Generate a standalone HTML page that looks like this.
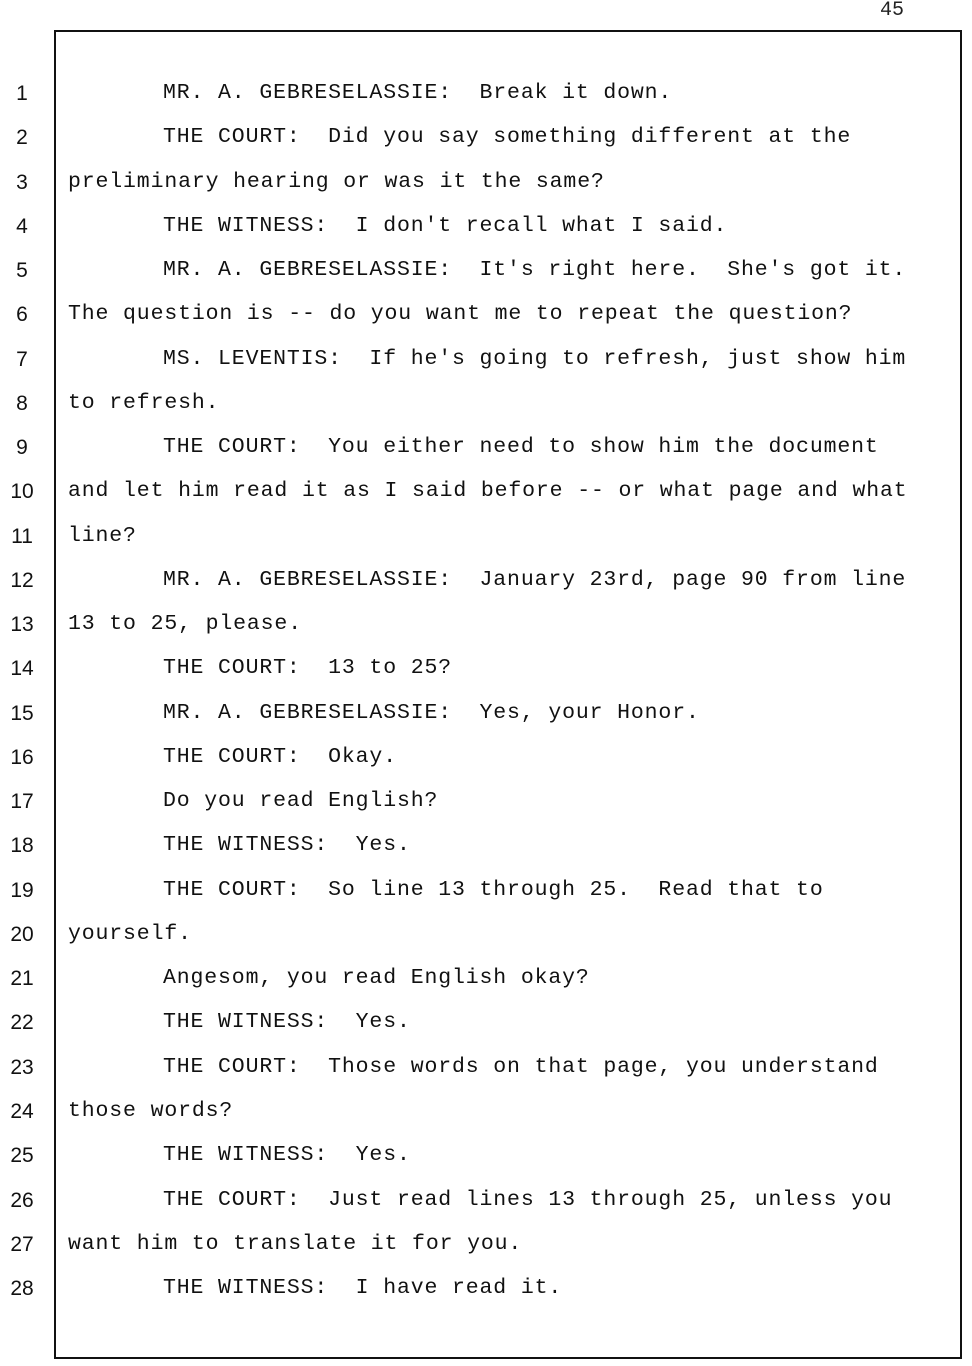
<!DOCTYPE html>
<html><head><meta charset="utf-8"><style>
body{margin:0;background:#fff;width:972px;height:1366px;position:relative;overflow:hidden}
.box{position:absolute;left:54px;top:30px;width:904px;height:1325px;border:2px solid #111}
.n{position:absolute;left:0;width:44px;text-align:center;font:21px "Liberation Sans",sans-serif;color:#111}
.t{position:absolute;font:21.5px "Liberation Mono",monospace;letter-spacing:0.86px;color:#111;white-space:pre}
.pg{position:absolute;left:880px;top:-1px;font:20px "Liberation Mono",monospace;color:#222}
</style></head><body>
<div class="pg">45</div>
<div class="box"></div>
<div id="c"></div>
<script>
var L=[
[1,"MR. A. GEBRESELASSIE:  Break it down."],
[1,"THE COURT:  Did you say something different at the"],
[0,"preliminary hearing or was it the same?"],
[1,"THE WITNESS:  I don't recall what I said."],
[1,"MR. A. GEBRESELASSIE:  It's right here.  She's got it."],
[0,"The question is -- do you want me to repeat the question?"],
[1,"MS. LEVENTIS:  If he's going to refresh, just show him"],
[0,"to refresh."],
[1,"THE COURT:  You either need to show him the document"],
[0,"and let him read it as I said before -- or what page and what"],
[0,"line?"],
[1,"MR. A. GEBRESELASSIE:  January 23rd, page 90 from line"],
[0,"13 to 25, please."],
[1,"THE COURT:  13 to 25?"],
[1,"MR. A. GEBRESELASSIE:  Yes, your Honor."],
[1,"THE COURT:  Okay."],
[1,"Do you read English?"],
[1,"THE WITNESS:  Yes."],
[1,"THE COURT:  So line 13 through 25.  Read that to"],
[0,"yourself."],
[1,"Angesom, you read English okay?"],
[1,"THE WITNESS:  Yes."],
[1,"THE COURT:  Those words on that page, you understand"],
[0,"those words?"],
[1,"THE WITNESS:  Yes."],
[1,"THE COURT:  Just read lines 13 through 25, unless you"],
[0,"want him to translate it for you."],
[1,"THE WITNESS:  I have read it."]];
var h="";
for(var i=0;i<L.length;i++){var y=80+i*44.26;
h+='<div class="n" style="top:'+(y+2)+'px">'+(i+1)+'</div>';
var s=L[i][1].replace(/&/g,"&amp;").replace(/</g,"&lt;");
h+='<div class="t" style="left:'+(L[i][0]?163:68)+'px;top:'+(y+1)+'px">'+s+'</div>';}
document.getElementById("c").innerHTML=h;
</script>
</body></html>
